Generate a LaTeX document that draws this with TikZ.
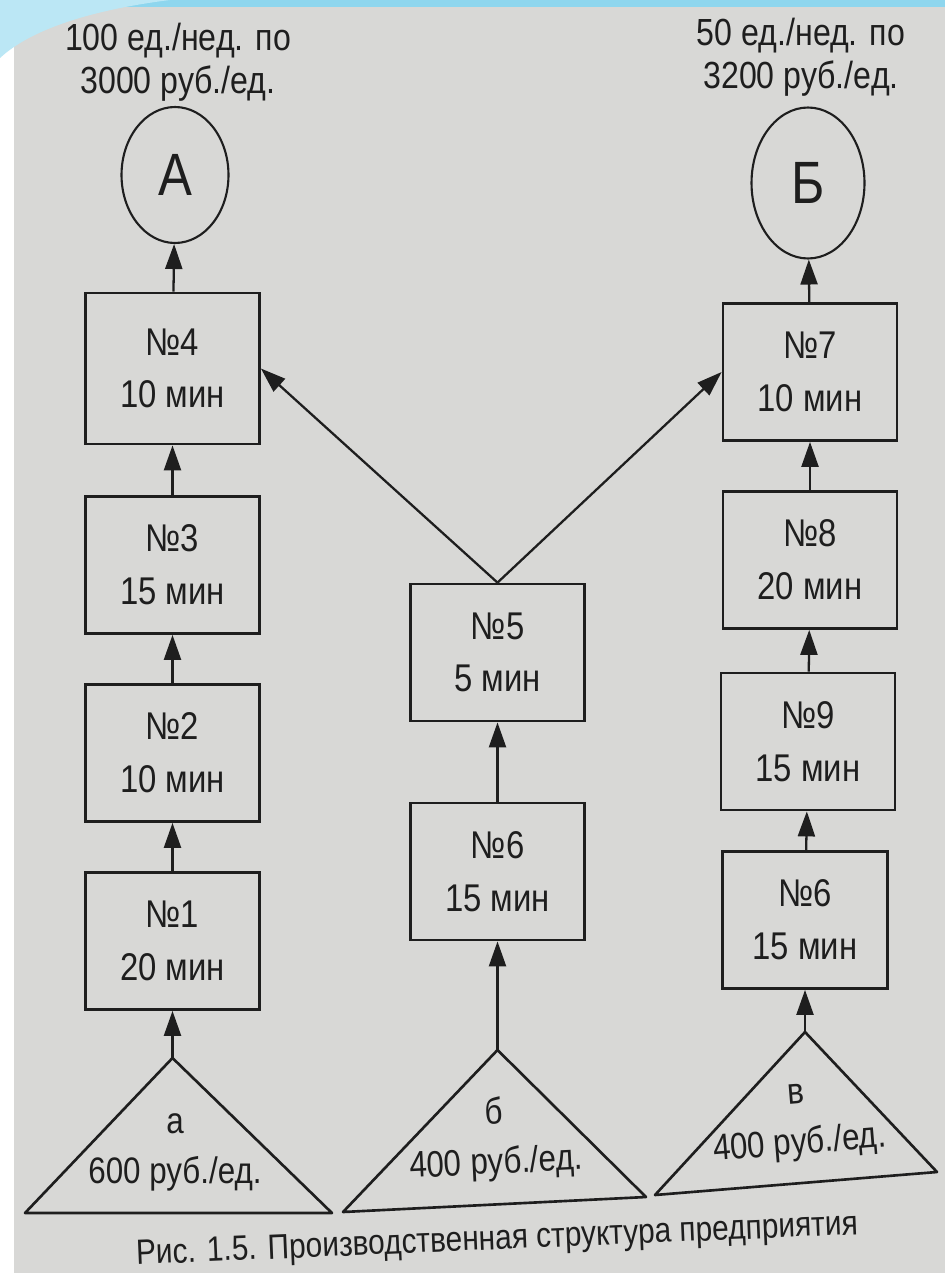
\documentclass[tikz,border=0pt]{standalone}
\usepackage{fontspec}
\setmainfont[FakeStretch=0.85]{Liberation Sans}
\usetikzlibrary{arrows.meta,shapes.geometric}
\definecolor{paper}{HTML}{D8D8D6}
\definecolor{ink}{HTML}{1E1E1E}
\definecolor{slideblue}{HTML}{8ED6EE}
\tikzset{
  stage/.style={draw=ink, line width=1.6pt, minimum width=3.48cm, minimum height=2.74cm,
                inner sep=0pt, align=center, text=ink, font=\fontsize{22}{30}\selectfont},
  product/.style={draw=ink, line width=1.2pt, ellipse, inner sep=0pt,
                  text=ink, font=\fontsize{34}{34}\selectfont},
  demand/.style={align=center, text=ink, font=\fontsize{21.5}{24.5}\selectfont},
  supply/.style={draw=ink, line width=1.5pt, line join=round},
  stuff/.style={align=center, text=ink, font=\fontsize{21}{28.5}\selectfont},
  flow/.style={-{Triangle[length=0.5cm, width=0.34cm]}, line width=1.3pt, draw=ink},
}

\begin{document}
\begin{tikzpicture}[x=0.02cm, y=-0.02cm]

  % Page
  \useasboundingbox (0,0) rectangle (945,1273);
  \fill[white] (0,0) rectangle (945,1273);
  \fill[paper] (14,7) rectangle (945,1273);
  \fill[slideblue] (0,0) rectangle (945,7);
  \fill[slideblue!60] (0,0) -- (170,0) .. controls (90,10) and (30,30) .. (0,58) -- cycle;

  % Products
  \node[product, minimum width=2.14cm, minimum height=2.72cm] (A) at (175,175) {А};
  \node[product, minimum width=2.26cm, minimum height=3.02cm] (B) at (808,183) {Б};
  \node[demand] (dA) at (178,62) {100 ед./нед. по\\3000 руб./ед.};
  \node[demand] (dB) at (801,57) {50 ед./нед. по\\3200 руб./ед.};

  % Line for A
  \node[stage, minimum height=3.02cm] (s4) at (172.5,368.5) {№4\\10 мин};
  \node[stage] (s3) at (172.5,565) {№3\\15 мин};
  \node[stage] (s2) at (172.5,753) {№2\\10 мин};
  \node[stage] (s1) at (172.5,941) {№1\\20 мин};

  % Shared part
  \node[stage] (s5) at (497.5,652.5) {№5\\5 мин};
  \node[stage] (s6m) at (497.5,871.5) {№6\\15 мин};

  % Line for B
  \node[stage] (s7) at (810,372) {№7\\10 мин};
  \node[stage] (s8) at (810,560) {№8\\20 мин};
  \node[stage] (s9) at (808,741.5) {№9\\15 мин};
  \node[stage, minimum width=3.3cm] (s6r) at (805,920) {№6\\15 мин};

  % Materials
  \coordinate (ta) at (172.5,1058);
  \coordinate (tb) at (497.5,1050);
  \coordinate (tv) at (805,1032);
  \draw[supply] (ta) -- (25,1213) -- (332,1213) -- cycle;
  \draw[supply] (tb) -- (343,1212) -- (646,1197) -- cycle;
  \draw[supply] (tv) -- (655,1195) -- (937,1172) -- cycle;
  \node[stuff] (ma) at (175,1152) {а\\600 руб./ед.};
  \node[stuff, rotate=2.8] (mb) at (495,1139) {б\\400 руб./ед.};
  \node[stuff, rotate=4.7] (mv) at (798,1123) {в\\400 руб./ед.};

  % Flows
  \draw[flow] (ta) -- (s1);
  \draw[flow] (s1) -- (s2);
  \draw[flow] (s2) -- (s3);
  \draw[flow] (s3) -- (s4);
  \draw[flow] (s4) -- (A);
  \draw[flow] (tb) -- (s6m);
  \draw[flow] (s6m) -- (s5);
  \draw[flow] (s5.north) -- (s4.east);
  \draw[flow] (s5.north) -- (s7.west);
  \draw[flow] (tv) -- (s6r);
  \draw[flow] (s6r) -- (s9);
  \draw[flow] (s9) -- (s8);
  \draw[flow] (s8) -- (s7);
  \draw[flow] (s7) -- (B);

  % Caption
  \node[text=ink, font=\fontsize{20}{24}\selectfont, rotate=2.4] (cap) at (497,1241)
    {Рис. 1.5. Производственная структура предприятия};

\end{tikzpicture}
\end{document}
